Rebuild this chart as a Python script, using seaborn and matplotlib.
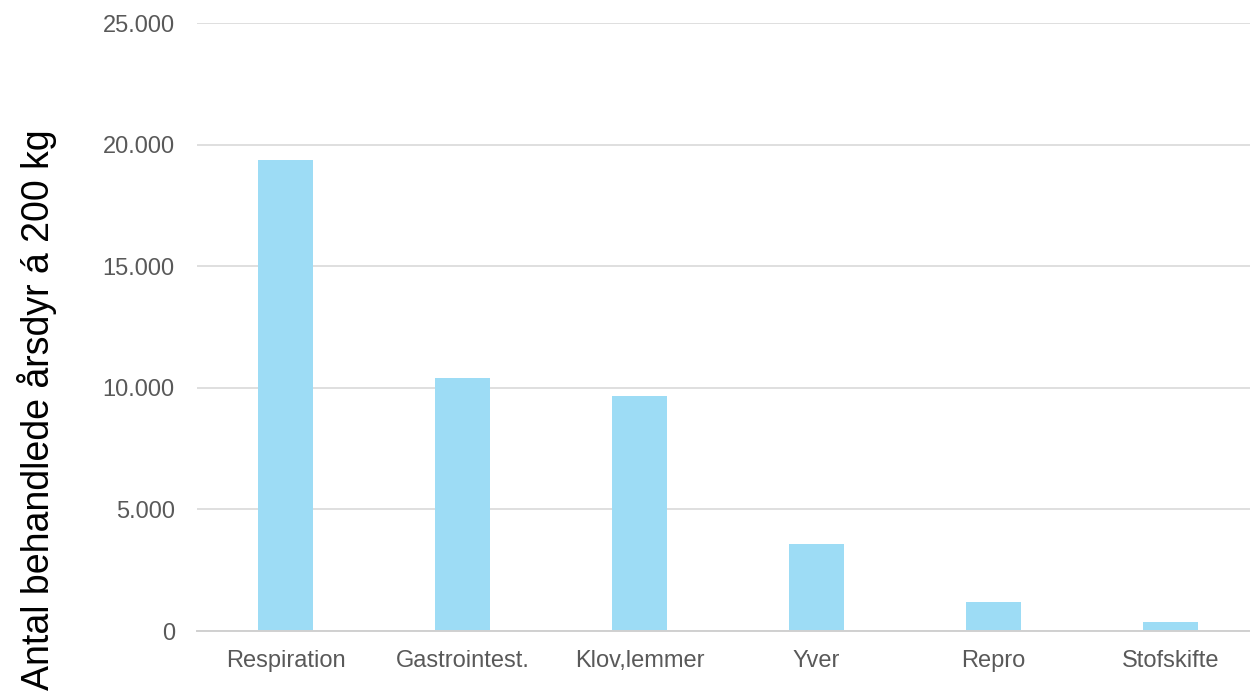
import numpy as np
import pandas as pd
import seaborn as sns
import matplotlib.pyplot as plt
from matplotlib.ticker import FuncFormatter

# data
categories = ["Respiration", "Gastrointest.", "Klov,lemmer", "Yver", "Repro", "Stofskifte"]
values = [19350, 10400, 9660, 3580, 1190, 370]

df = pd.DataFrame({"kategori": categories, "antal": values})

sns.set_style("white")
plt.rcParams['font.family'] = ['Arial', 'Liberation Sans', 'DejaVu Sans']

fig = plt.figure(figsize=(12.5, 6.91), dpi=100)
ax = fig.add_axes([197 / 1250, 1 - 631 / 691, 1062 / 1250, 608 / 691])

sns.barplot(data=df, x="kategori", y="antal", color="#9DDCF5", width=0.315,
            saturation=1, linewidth=0, ax=ax)

ax.set_ylim(0, 25000)
ax.set_xlim(-0.5, 5.5)
ax.set_yticks(np.arange(0, 25001, 5000))
ax.yaxis.set_major_formatter(FuncFormatter(lambda v, p: f"{int(v):,}".replace(",", ".")))
ax.yaxis.grid(True, color="#D9D9D9", linewidth=1.2)
ax.set_axisbelow(True)

for s in ["top", "right", "left"]:
    ax.spines[s].set_visible(False)
ax.spines["bottom"].set_color("#D0D0D0")
ax.spines["bottom"].set_linewidth(1.4)

ax.tick_params(axis="both", length=0, labelsize=17, colors="#595959")
ax.tick_params(axis="y", pad=16)
ax.tick_params(axis="x", pad=14)
ax.set_xlabel("")
ax.set_ylabel("")

# the axis title sits lower than the middle of the axes in the reference
fig.text(0.0295, 1 - 410 / 691, "Antal behandlede årsdyr á 200 kg", rotation=90,
         fontsize=27, color="black", ha="center", va="center")

fig.savefig("out.png", dpi=100)
